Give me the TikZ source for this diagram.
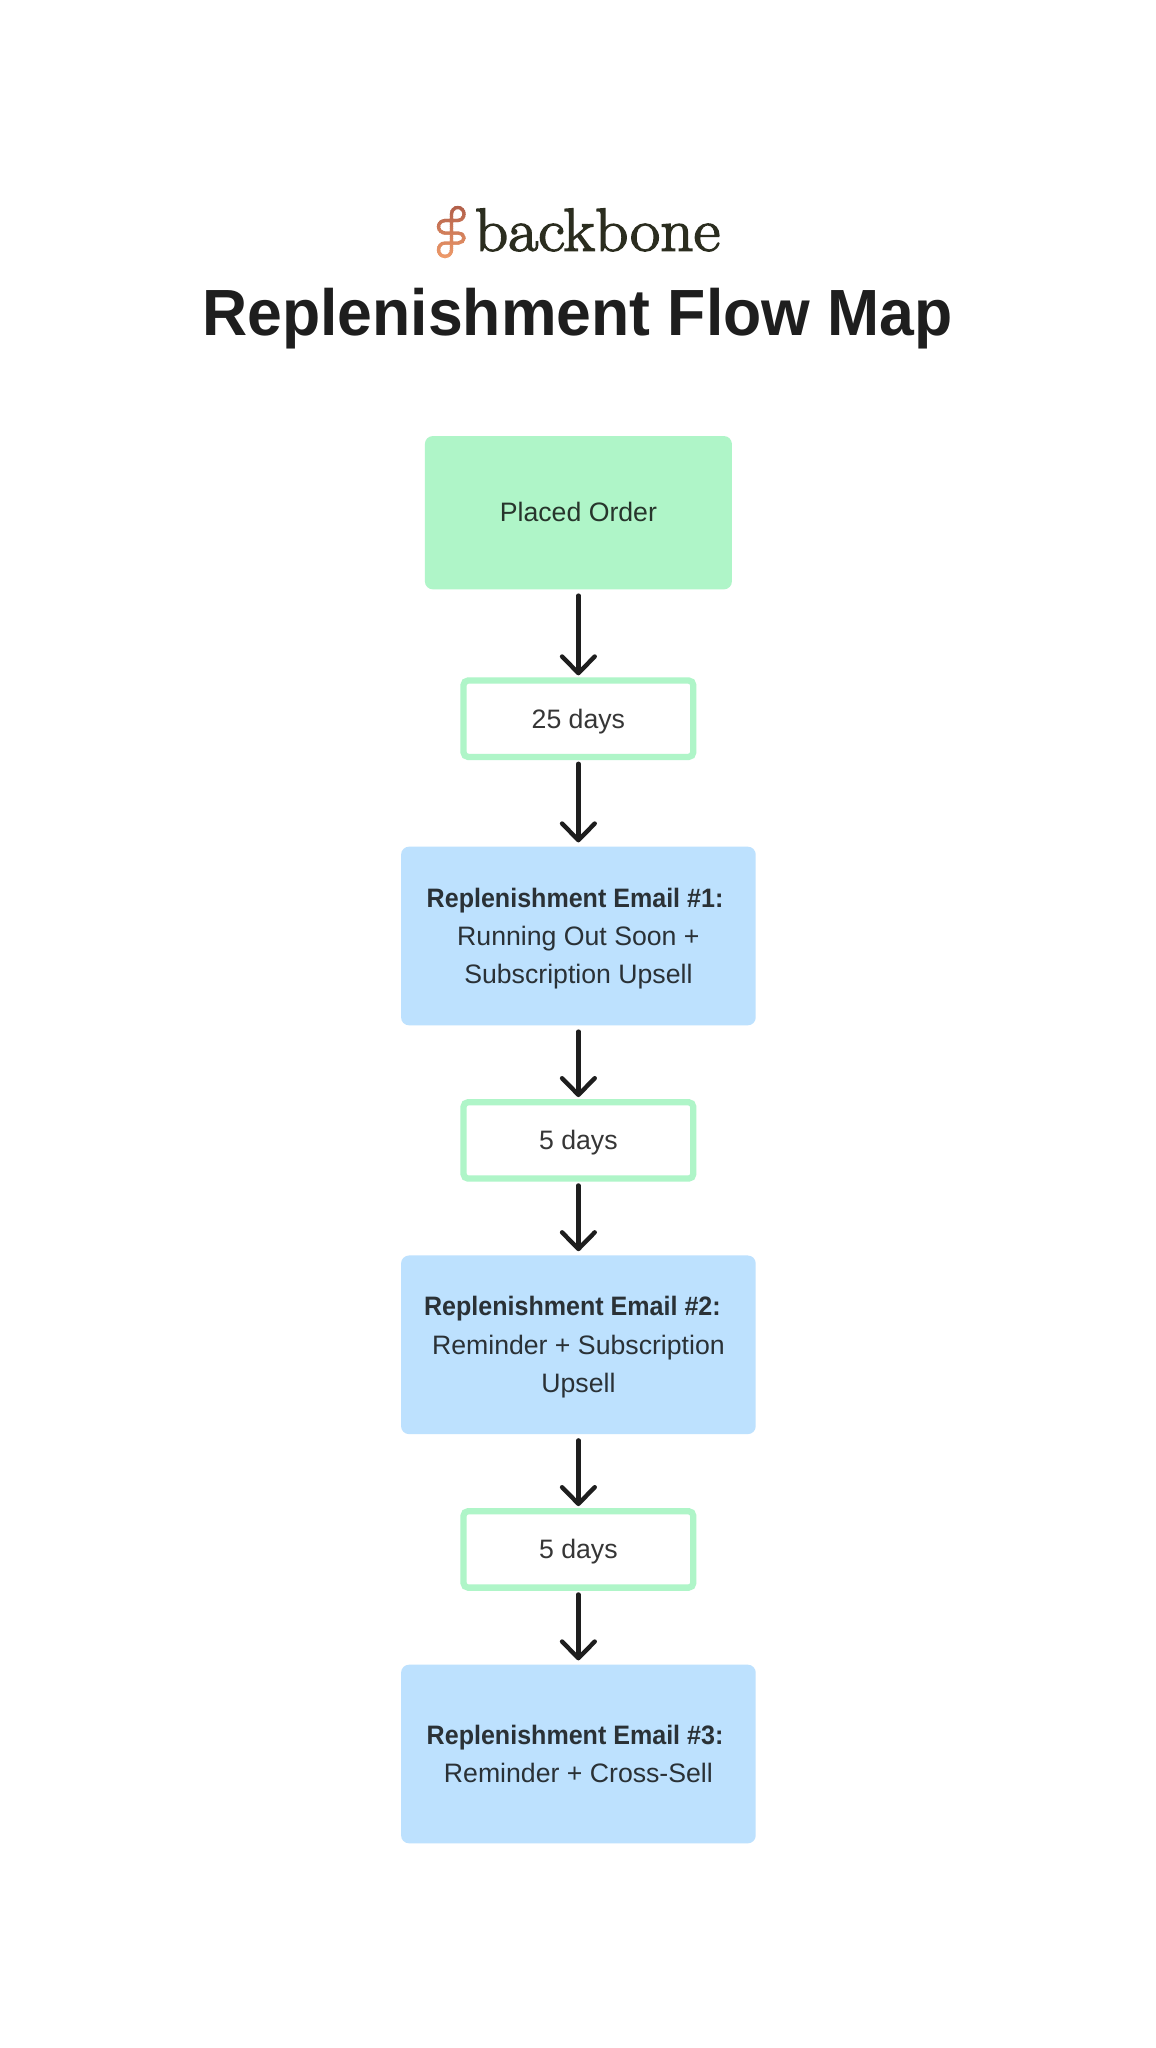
\documentclass[tikz,border=0pt]{standalone}
\usepackage{fontspec}
\usetikzlibrary{arrows.meta}
\setmainfont{Liberation Sans}[BoldFeatures={FakeStretch=0.94}]
\newfontfamily\titlefont{Liberation Sans}[FakeStretch=0.957]
\newfontfamily\logofont{Latin Modern Roman}[FakeStretch=1.08,FakeBold=2.4]
\definecolor{mint}{HTML}{AFF5C8}
\definecolor{sky}{HTML}{BDE1FE}
\definecolor{ink}{HTML}{1E1E1E}
\definecolor{txt}{HTML}{2A3136}
\definecolor{greentxt}{HTML}{27352C}
\definecolor{daytxt}{HTML}{363636}
\definecolor{logoink}{HTML}{2B2D1F}
\definecolor{logotop}{HTML}{B05E49}
\definecolor{logobot}{HTML}{F09C6B}
\newcommand\topstrut{\rule{0pt}{19pt}}
\newcommand\botstrut{\rule[-5pt]{0pt}{5pt}}
\tikzset{
  bluebox/.style={fill=sky,rounded corners=6pt,minimum width=266pt,minimum height=134pt,align=center,text=txt,font=\fontsize{20}{28.65}\selectfont,inner sep=0pt},
  greenbox/.style={fill=mint,rounded corners=6pt,minimum width=230.25pt,minimum height=115pt,text=greentxt,font=\fontsize{20}{24}\selectfont,inner sep=0pt},
  waitbox/.style={draw=mint,line width=4.7pt,fill=white,rounded corners=3.4pt,minimum width=172.3pt,minimum height=57.3pt,text=daytxt,font=\fontsize{20}{24}\selectfont,inner sep=0pt},
  flow/.style={draw=ink,line width=3.3pt,line cap=round,-{Straight Barb[length=12.5pt,width=24.5pt,line width=3.3pt,round]}},
  flowgreen/.style={flow,shorten <=4.5pt,shorten >=1.5pt},
  flowwait/.style={flow,shorten <=2.8pt,shorten >=3pt},
  flowblue/.style={flow,shorten <=4.5pt,shorten >=1.5pt},
}
\newcommand\logopath{
  (451.5,249.75) .. controls (451.5,253.5) and (448.6,256.5) .. (445,256.5)
  .. controls (441.4,256.5) and (438.5,253.5) .. (438.5,249.75)
  .. controls (438.5,246) and (441.4,243) .. (445,243)
  -- (458.25,243)
  .. controls (461.4,243) and (464,240.8) .. (464,238)
  .. controls (464,235.2) and (461.4,233) .. (458.25,233)
  -- (445.25,233)
  .. controls (441.5,233) and (438.5,230.2) .. (438.5,226.75)
  .. controls (438.5,223.3) and (441.5,220.5) .. (445.25,220.5)
  -- (457.75,220.5)
  .. controls (461.2,220.5) and (464,217.6) .. (464,214)
  .. controls (464,210.4) and (461.2,207.5) .. (457.75,207.5)
  .. controls (454.3,207.5) and (451.5,210.4) .. (451.5,214)
  -- cycle
}
\begin{document}
\begin{tikzpicture}[x=0.75pt,y=-0.75pt]
\useasboundingbox (0,0) rectangle (1156,2048);
\fill[white] (0,0) rectangle (1156,2048);
% logo mark: one looped stroke, coloured band by band
\foreach \yy in {204,206,...,258}{
  \pgfmathtruncatemacro{\pp}{(\yy-204)*100/54}
  \begin{scope}
    \clip (430,\yy) rectangle (475,\yy+2.2);
    \draw[line width=2.5pt,color=logobot!\pp!logotop] \logopath;
  \end{scope}
}
\node[anchor=base,text=logoink,font=\logofont\fontsize{45.5}{45.5}\selectfont,inner sep=0pt] (logo) at (597.5,250.7) {backbone};
\node[anchor=base,text=ink,font=\titlefont\fontsize{49}{49}\selectfont\bfseries,inner sep=0pt] (title) at (577.5,335) {Replenishment Flow Map};
\node[greenbox] (order) at (578.4,512.7) {\rule{0pt}{18.5pt}Placed Order\botstrut};
\node[waitbox] (w1) at (578.4,718.7) {\topstrut 25 days\botstrut};
\node[bluebox] (e1) at (578.4,936) {\topstrut\textbf{Replenishment Email \#1:}\hspace*{5pt}\\Running Out Soon +\hspace*{5pt}\\Subscription Upsell\botstrut};
\node[waitbox] (w2) at (578.4,1140.4) {\topstrut 5 days\botstrut};
\node[bluebox] (e2) at (578.4,1344.8) {\topstrut\textbf{Replenishment Email \#2:}\hspace*{9pt}\\Reminder + Subscription\hspace*{5pt}\\Upsell\botstrut};
\node[waitbox] (w3) at (578.4,1549.4) {\topstrut 5 days\botstrut};
\node[bluebox] (e3) at (578.4,1754) {\topstrut\textbf{Replenishment Email \#3:}\hspace*{5pt}\\Reminder + Cross-Sell\botstrut};
\draw[flowgreen] (order) -- (w1);
\draw[flowwait] (w1) -- (e1);
\draw[flowblue] (e1) -- (w2);
\draw[flowwait] (w2) -- (e2);
\draw[flowblue] (e2) -- (w3);
\draw[flowwait] (w3) -- (e3);
\end{tikzpicture}
\end{document}
